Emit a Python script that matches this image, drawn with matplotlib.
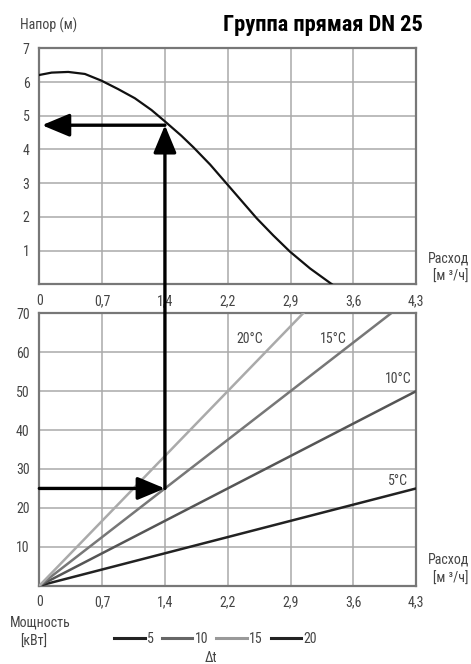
import numpy as np
import matplotlib
matplotlib.use("Agg")
import matplotlib.pyplot as plt
from matplotlib.patches import ConnectionPatch
from matplotlib.lines import Line2D

plt.rcParams["font.family"] = ["Roboto Condensed", "Roboto", "DejaVu Sans"]

# --------- data ---------
x_max = 4.3
x_labels = ["0", "0,7", "1,4", "2,2", "2,9", "3,6", "4,3"]

# pump curve, head [m] vs flow [m3/h]
flow_curve = [0.0, 0.14, 0.33, 0.52, 0.71, 0.90, 1.09, 1.28, 1.43, 1.62, 1.76, 1.95,
              2.14, 2.31, 2.48, 2.67, 2.86, 3.09, 3.34]
head_curve = [6.21, 6.28, 6.30, 6.24, 6.04, 5.79, 5.52, 5.17, 4.84, 4.41, 4.06, 3.55,
              2.98, 2.47, 1.96, 1.45, 0.97, 0.47, 0.0]

# power lines: kW at the right edge (flow = 4.3) for each delta t
dt_labels = ["5°C", "10°C", "15°C", "20°C"]
power_at_max = [25.0, 50.0, 75.0, 100.0]
dt_colors = ["#222222", "#555555", "#777777", "#aaaaaa"]
label_pos = [(4.09, 26.9), (4.10, 53.0), (3.35, 63.4), (2.40, 63.4)]

# worked example
ex_flow = 4.3 * 2 / 6
ex_head = 4.72
ex_power = 25.0

# legend (as in the original)
leg_labels = ["5", "10", "15", "20"]
leg_colors = ["#222222", "#666666", "#999999", "#222222"]

grid_c = "#aaaaaa"
frame_c = "#777777"
text_c = "#444444"

fig = plt.figure(figsize=(4.71, 6.64), dpi=100)
ax1 = fig.add_axes([0.0835, 0.5718, 0.800, 0.3554])
ax2 = fig.add_axes([0.0835, 0.1179, 0.800, 0.4102])

xt = np.linspace(0, x_max, 7)
for ax, ymax, yt in ((ax1, 7, np.arange(1, 8)), (ax2, 70, np.arange(10, 71, 10))):
    ax.set_xlim(0, x_max)
    ax.set_ylim(0, ymax)
    ax.set_xticks(xt)
    ax.set_xticklabels(x_labels)
    ax.set_yticks(yt)
    ax.set_yticklabels([str(v) for v in yt])
    ax.grid(color=grid_c, lw=1.1)
    ax.tick_params(length=0, labelsize=10, colors=text_c, pad=7)
    for s in ax.spines.values():
        s.set_color(frame_c)
        s.set_linewidth(1.6)
    ax.set_axisbelow(True)

# top: pump curve
ax1.plot(flow_curve, head_curve, color="#111111", lw=1.6, zorder=3,
         solid_joinstyle="round")

# bottom: power lines
for p, c, lab, (lx, ly) in zip(power_at_max, dt_colors, dt_labels, label_pos):
    ax2.plot([0, x_max], [0, p], color=c, lw=1.8, zorder=3)
    ax2.text(lx, ly, lab, fontsize=10, color=text_c, ha="center", va="center")

# arrows of the worked example
arr = dict(arrowstyle="-|>,head_length=1.2,head_width=0.5", color="black",
           lw=2.4, shrinkA=0, shrinkB=0, mutation_scale=14)
up = ConnectionPatch(xyA=(ex_flow, ex_power), coordsA=ax2.transData,
                     xyB=(ex_flow, ex_head), coordsB=ax1.transData, zorder=5, **arr)
fig.add_artist(up)
ax1.annotate("", xy=(0.03, ex_head), xytext=(ex_flow, ex_head),
             arrowprops=arr, zorder=5)
ax2.annotate("", xy=(ex_flow, ex_power), xytext=(0, ex_power),
             arrowprops=arr, zorder=5)

# texts
fig.text(0.043, 0.962, "Напор (м)", fontsize=10, color=text_c, va="center")
fig.text(0.897, 0.962, "Группа прямая DN 25", fontsize=16.2, fontweight="bold",
         color="black", ha="right", va="center")
for yy in (0.597, 0.143):
    fig.text(0.995, yy, "Расход\n[м ³/ч]", fontsize=10, color=text_c,
             ha="right", va="center", linespacing=1.45)
fig.text(0.021, 0.063, "Мощность", fontsize=10, color=text_c, va="center")
fig.text(0.042, 0.033, "[кВт]", fontsize=10, color=text_c, va="center")
fig.text(0.447, 0.009, "Δt", fontsize=10, color=text_c, ha="center", va="center")

# legend row
handles = [Line2D([], [], color=c, lw=2.2) for c in leg_colors]
fig.legend(handles, leg_labels, loc="center", bbox_to_anchor=(0.4575, 0.0377),
           ncol=4, frameon=False, fontsize=10, handlelength=2.2,
           handletextpad=0.15, columnspacing=0.6, labelcolor=text_c)

fig.savefig("out.png", dpi=100)
